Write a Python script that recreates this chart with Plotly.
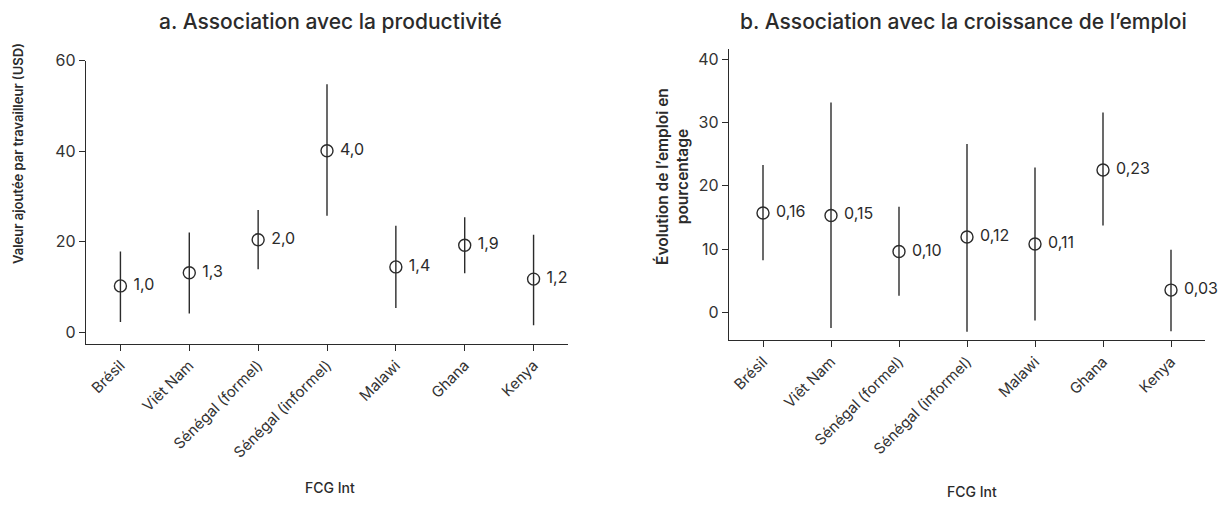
import plotly.graph_objects as go

categories = ["Brésil", "Viêt Nam", "Sénégal (formel)", "Sénégal (informel)", "Malawi", "Ghana", "Kenya"]

# Panel a: productivity (USD value added per worker)
prod_value = [10.2, 13.1, 20.4, 40.1, 14.4, 19.2, 11.7]
prod_low = [2.2, 4.1, 13.9, 25.7, 5.3, 13.0, 1.5]
prod_high = [17.8, 22.0, 27.0, 54.8, 23.5, 25.4, 21.5]
prod_labels = ["1,0", "1,3", "2,0", "4,0", "1,4", "1,9", "1,2"]

# Panel b: employment growth (percent)
emp_value = [15.7, 15.3, 9.6, 11.9, 10.8, 22.5, 3.5]
emp_low = [8.2, -2.5, 2.6, -3.1, -1.3, 13.7, -3.0]
emp_high = [23.3, 33.2, 16.7, 26.6, 22.9, 31.6, 9.9]
emp_labels = ["0,16", "0,15", "0,10", "0,12", "0,11", "0,23", "0,03"]

ink = "#2b2b2b"
font_family = "Inter"

def err(vals, lo, hi):
    plus = [h - v for v, h in zip(vals, hi)]
    minus = [v - l for v, l in zip(vals, lo)]
    return dict(type="data", symmetric=False, array=plus, arrayminus=minus,
                color=ink, thickness=1.4, width=0)

def pad(labels):
    return ["\u00a0" + t for t in labels]

fig = go.Figure()
for vals, lo, hi, labs, xa, ya in [
    (prod_value, prod_low, prod_high, prod_labels, "x", "y"),
    (emp_value, emp_low, emp_high, emp_labels, "x2", "y2"),
]:
    fig.add_trace(go.Scatter(
        x=categories, y=vals, mode="markers+text", text=pad(labs),
        textposition="middle right", textfont=dict(size=16, color=ink, family=font_family),
        marker=dict(symbol="circle-open", size=12, color=ink, line=dict(width=1.4, color=ink)),
        error_y=err(vals, lo, hi), xaxis=xa, yaxis=ya, showlegend=False, cliponaxis=False,
        hoverinfo="skip"))

xcommon = dict(type="category", range=[-0.5, 6.5], showline=True, linecolor=ink, linewidth=1.4,
               ticks="outside", ticklen=6, tickcolor=ink, tickwidth=1.2, tickangle=-45,
               tickfont=dict(size=15, color="#333333", family=font_family), showgrid=False,
               zeroline=False, automargin=False)
ycommon = dict(showline=True, linecolor=ink, linewidth=1.4, ticks="outside", ticklen=6,
               tickcolor=ink, tickwidth=1.2, tickfont=dict(size=16, color="#333333", family=font_family),
               showgrid=False, zeroline=False, automargin=False)

fig.update_layout(
    width=1225, height=520, margin=dict(l=0, r=0, t=0, b=0),
    paper_bgcolor="white", plot_bgcolor="white",
    font=dict(family=font_family, color=ink),
    xaxis=dict(domain=[86/1225, 568/1225], anchor="y", **xcommon),
    yaxis=dict(domain=[1-343.6/520, 1-60.7/520], anchor="x", range=[-2.56, 60],
               tickvals=[0, 20, 40, 60], **ycommon),
    xaxis2=dict(domain=[729/1225, 1205/1225], anchor="y2", **xcommon),
    yaxis2=dict(domain=[1-340/520, 1-49.3/520], anchor="x2", range=[-4.4, 41.6],
                tickvals=[0, 10, 20, 30, 40], **ycommon),
    annotations=[
        dict(text="a. Association avec la productivité", x=330/1225, y=1-22/520,
             xref="paper", yref="paper", showarrow=False, xanchor="center", yanchor="middle",
             font=dict(size=21, color=ink, family=font_family, weight=500)),
        dict(text="b. Association avec la croissance de l’emploi", x=963/1225, y=1-22/520,
             xref="paper", yref="paper", showarrow=False, xanchor="center", yanchor="middle",
             font=dict(size=21, color=ink, family=font_family, weight=500)),
        dict(text="Valeur ajoutée par travailleur (USD)", x=18/1225, y=1-154/520,
             xref="paper", yref="paper", showarrow=False, textangle=-90,
             xanchor="center", yanchor="middle",
             font=dict(size=13, color=ink, family=font_family, weight=600)),
        dict(text="Évolution de l’emploi en<br>pourcentage", x=672/1225, y=1-177/520,
             xref="paper", yref="paper", showarrow=False, textangle=-90,
             xanchor="center", yanchor="middle",
             font=dict(size=15.5, color=ink, family=font_family, weight=600)),
        dict(text="FCG Int", x=330/1225, y=1-487/520,
             xref="paper", yref="paper", showarrow=False, xanchor="center", yanchor="middle",
             font=dict(size=14, color=ink, family=font_family, weight=500)),
        dict(text="FCG Int", x=972/1225, y=1-491/520,
             xref="paper", yref="paper", showarrow=False, xanchor="center", yanchor="middle",
             font=dict(size=14, color=ink, family=font_family, weight=500)),
    ],
)

fig.write_html("out.html", config={"displayModeBar": False},
               post_script="document.body.style.margin='0';")
